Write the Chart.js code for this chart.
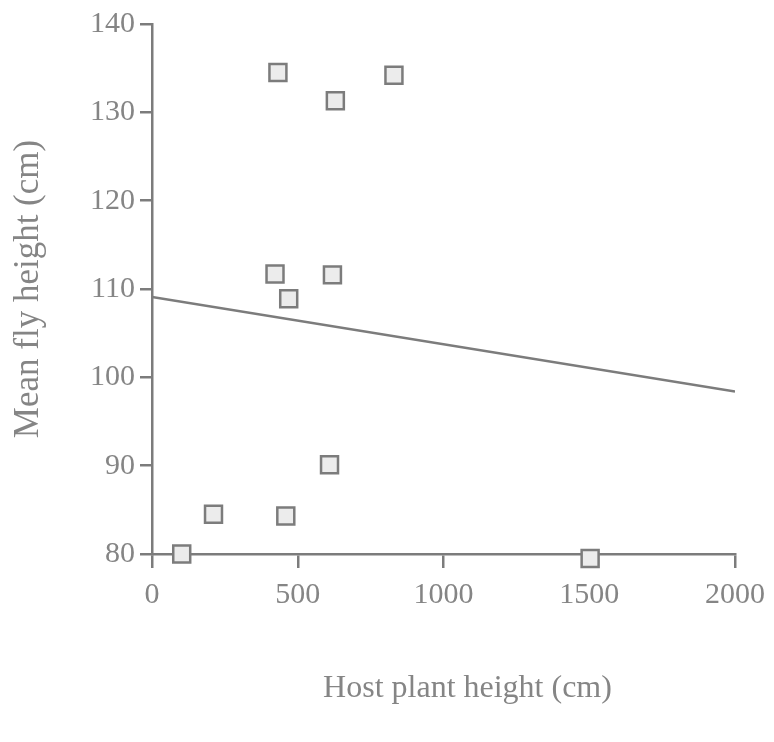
<!DOCTYPE html>
<html>
<head>
<meta charset="utf-8">
<title>Mean fly height vs host plant height</title>
<script src="https://cdn.jsdelivr.net/npm/chart.js@4.4.0/dist/chart.umd.min.js"></script>
<style>
  html, body { margin: 0; padding: 0; background: #fff; }
  #wrap { width: 774px; height: 742px; }
</style>
</head>
<body>
<div id="wrap"><canvas id="chart" width="774" height="742"></canvas></div>
<script>
// --- Data ---
const hostHeight = [102, 211, 459, 609, 422, 469, 619, 432, 629, 830, 1503];
const flyHeight  = [80.0, 84.5, 84.3, 90.1, 111.7, 108.9, 111.6, 134.5, 131.3, 134.2, 79.5];
const fitX = [0, 2000];
const fitY = [109.1, 98.4];
const xTicks = [0, 500, 1000, 1500, 2000];
const yTicks = [80, 90, 100, 110, 120, 130, 140];

const ink = '#7c7c7c';
const textInk = '#858585';
const serif = "'Liberation Serif', 'DejaVu Serif', serif";

const points = hostHeight.map((x, i) => ({ x, y: flyHeight[i] }));
const fit = fitX.map((x, i) => ({ x, y: fitY[i] }));

function fixedTicks(list) {
  return scale => { scale.ticks = list.map(v => ({ value: v })); };
}

new Chart(document.getElementById('chart'), {
  type: 'scatter',
  data: {
    datasets: [
      {
        label: 'Hosts',
        data: points,
        pointStyle: 'rect',
        pointRadius: 12,
        pointBackgroundColor: '#ececec',
        pointBorderColor: ink,
        pointBorderWidth: 2.5,
        clip: false
      },
      {
        type: 'line',
        label: 'Fit',
        data: fit,
        borderColor: ink,
        borderWidth: 2.5,
        pointRadius: 0,
        fill: false
      }
    ]
  },
  options: {
    responsive: false,
    animation: false,
    layout: { padding: { top: 24, right: 36, left: 0, bottom: 0 } },
    plugins: { legend: { display: false }, tooltip: { enabled: false } },
    scales: {
      x: {
        type: 'linear',
        min: 0,
        max: 2000,
        afterBuildTicks: fixedTicks(xTicks),
        afterFit: s => { s.height = 188; },
        border: { display: true, color: ink, width: 2.5 },
        grid: { drawOnChartArea: false, color: ink, lineWidth: 2.5, tickLength: 14 },
        ticks: {
          color: textInk, font: { family: serif, size: 30 }, padding: 9, maxRotation: 0,
          callback: v => String(v)
        },
        title: {
          display: true,
          // en spaces nudge the title right, as in the scan
          text: '\u2002\u2002\u2002Host plant height (cm)',
          color: textInk,
          font: { family: serif, size: 32 },
          padding: 34
        }
      },
      y: {
        type: 'linear',
        min: 80,
        max: 140,
        afterBuildTicks: fixedTicks(yTicks),
        afterFit: s => { s.width = 152; },
        border: { display: true, color: ink, width: 2.5 },
        grid: { drawOnChartArea: false, color: ink, lineWidth: 2.5, tickLength: 12 },
        ticks: { color: textInk, font: { family: serif, size: 30 }, padding: 5, callback: v => String(v) },
        title: {
          display: true,
          text: 'Mean fly height (cm)',
          color: textInk,
          font: { family: serif, size: 35 },
          padding: 8
        }
      }
    }
  },
  plugins: [{
    id: 'whiteBg',
    beforeDraw: c => {
      const ctx = c.ctx;
      ctx.save();
      ctx.fillStyle = '#fff';
      ctx.fillRect(0, 0, c.width, c.height);
      ctx.restore();
    }
  }]
});
</script>
</body>
</html>
